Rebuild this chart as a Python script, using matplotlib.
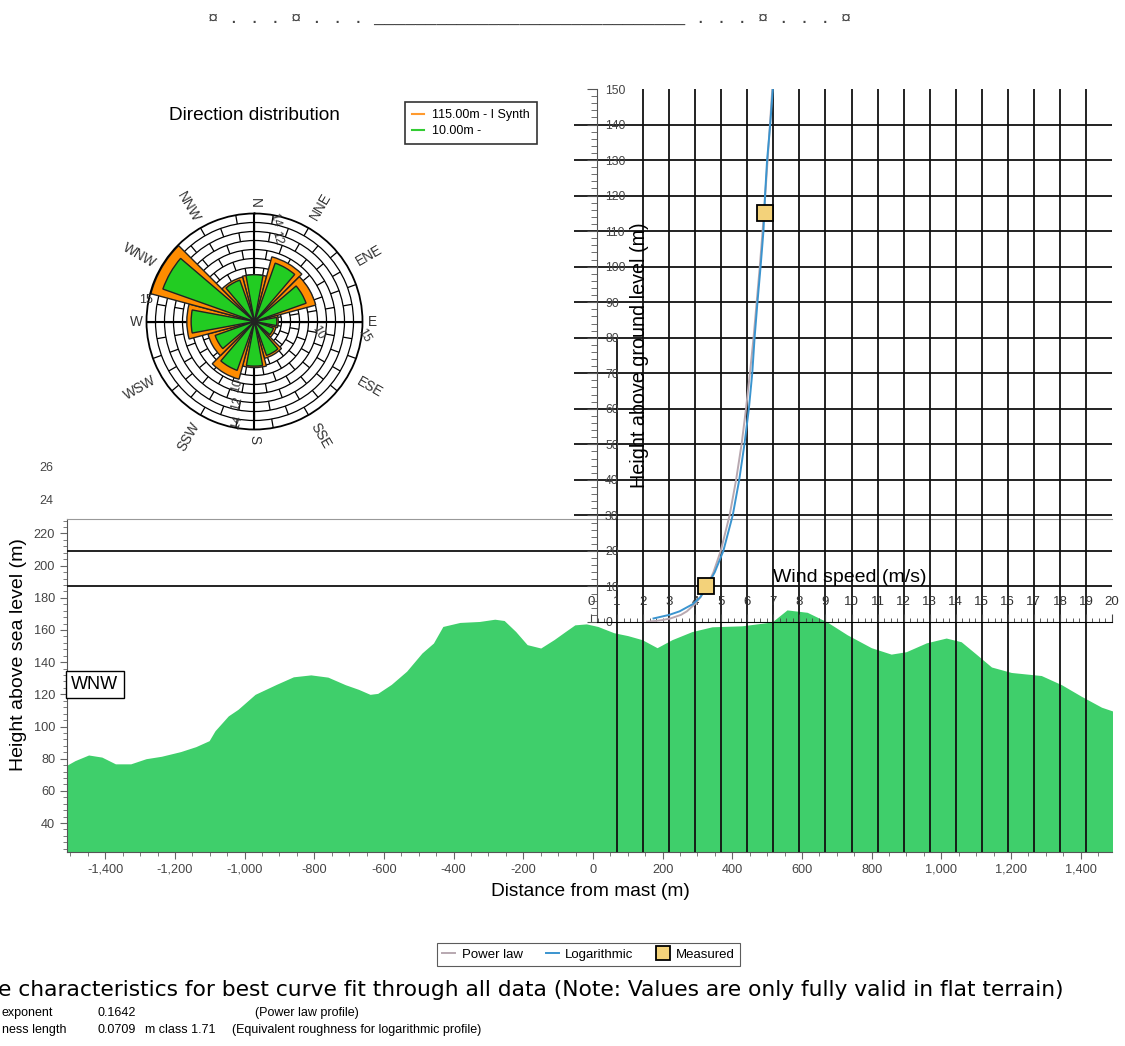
import matplotlib
matplotlib.use("Agg")
import matplotlib.pyplot as plt
import numpy as np
from matplotlib.lines import Line2D
from matplotlib.ticker import FuncFormatter, MultipleLocator

plt.rcParams["font.family"] = ["Liberation Sans", "DejaVu Sans"]

W, H = 1125, 1046

# direction distribution, 12 sectors
sectors = ["N", "NNE", "ENE", "E", "ESE", "SSE", "S", "SSW", "WSW", "W", "WNW", "NNW"]
rose_115m = [6.5, 9.3, 8.8, 3.3, 3.1, 5.3, 6.4, 8.3, 6.7, 9.4, 14.9, 6.4]
rose_10m = [6.5, 8.6, 7.6, 3.1, 2.8, 5.0, 6.2, 7.2, 5.8, 8.8, 13.5, 6.1]

# terrain section towards WNW
distance = [-1510, -1487, -1448, -1410, -1371, -1327, -1283, -1239, -1184, -1140,
            -1102, -1085, -1047, -1019, -970, -909, -860, -810, -761, -711,
            -673, -640, -618, -579, -535, -491, -458, -431, -382, -326,
            -282, -255, -222, -189, -150, -112, -79, -52, -19, 14,
            60, 100, 141, 184, 227, 284, 342, 428, 514, 557,
            615, 672, 730, 799, 856, 899, 957, 1014, 1057, 1100,
            1144, 1201, 1287, 1345, 1402, 1460, 1494]
elevation = [76.0, 78.8, 82.3, 81.0, 76.8, 76.8, 80.0, 81.5, 84.4, 87.5,
             91.2, 97.4, 106.6, 110.7, 120.0, 126.2, 130.9, 132.1, 130.7, 126.0,
             123.1, 120.0, 120.6, 126.2, 134.4, 145.7, 151.9, 162.2, 164.7, 165.3,
             166.7, 165.9, 159.1, 150.9, 148.8, 154.0, 159.1, 163.2, 163.8, 162.2,
             158.3, 156.5, 154.0, 149.0, 154.0, 159.0, 162.0, 162.6, 165.0, 172.5,
             171.0, 165.0, 157.0, 149.0, 145.0, 146.5, 152.0, 155.0, 152.7, 145.0,
             137.0, 133.6, 131.7, 126.0, 118.8, 112.0, 109.5]

# vertical wind profile
log_height = [1, 2, 3, 5, 7, 10, 14, 20, 30, 40, 50, 60, 70, 80, 90, 100, 110, 120, 130, 140, 150]
log_speed = [2.40, 3.00, 3.40, 3.90, 4.20, 4.45, 4.75, 5.08, 5.44, 5.69, 5.89, 6.06,
             6.19, 6.28, 6.39, 6.51, 6.62, 6.68, 6.76, 6.88, 6.98]
power_height = [0.1, 0.3, 0.5, 1, 2, 3, 5, 7, 10, 14, 20, 30, 40, 50, 60, 70, 80, 90,
                100, 115, 130, 150]
power_speed = [2.15, 2.50, 2.70, 3.05, 3.45, 3.68, 3.98, 4.20, 4.45, 4.70, 4.98, 5.32,
               5.57, 5.78, 5.95, 6.10, 6.24, 6.36, 6.48, 6.64, 6.78, 6.96]
measured_height = [10, 115]
measured_speed = [4.41, 6.68]


def fx(x):
    return x / W


def fy(y):
    return 1 - y / H


fig = plt.figure(figsize=(W / 100, H / 100), dpi=100)

# terrain section
ax_t = fig.add_axes([fx(67), fy(852), fx(1045), 333 / H])
ax_t.fill_between(distance, elevation, 0, color="#3fcf6b", lw=0)
ax_t.set_xlim(-1510, 1490)
ax_t.set_ylim(22, 229)
ax_t.set_xticks(range(-1400, 1401, 200))
ax_t.xaxis.set_minor_locator(MultipleLocator(50))
ax_t.set_yticks(range(40, 221, 20))
ax_t.yaxis.set_minor_locator(MultipleLocator(4))
ax_t.xaxis.set_major_formatter(FuncFormatter(lambda v, p: f"{v:,.0f}"))
ax_t.tick_params(which="major", length=5, color="#666", labelsize=9.2, labelcolor="#444")
ax_t.tick_params(which="minor", length=3, color="#666")
ax_t.spines["right"].set_visible(False)
ax_t.spines["top"].set_color("#999")
ax_t.spines["top"].set_linewidth(0.8)
for s in ("left", "bottom"):
    ax_t.spines[s].set_color("#555")
ax_t.set_xlabel("Distance from mast (m)", fontsize=13.8, va="center")
ax_t.xaxis.set_label_coords(0.5005, -0.12)
ax_t.set_ylabel("Height above sea level (m)", fontsize=14, va="center")
ax_t.yaxis.set_label_coords(-0.046, 0.592)
ax_t.text(0.004, 0.503, "WNW", transform=ax_t.transAxes, ha="left", va="center",
          fontsize=13, bbox=dict(boxstyle="square,pad=0.3", fc="white", ec="black", lw=1))
for lbl, y in (("26", 468), ("24", 501)):
    fig.text(fx(46), fy(y), lbl, ha="center", va="center", fontsize=9, color="#444")

# wind profile, drawn over the terrain
ax_p = fig.add_axes([fx(591), fy(622), fx(521), 533 / H])
ax_p.patch.set_alpha(0)
ax_p.set_xlim(0, 20)
ax_p.set_ylim(0, 150)
for s in ("top", "right"):
    ax_p.spines[s].set_visible(False)
ax_p.spines["left"].set_position(("data", 0.23))
ax_p.spines["left"].set_color("#555")
ax_p.spines["bottom"].set_bounds(0.23, 20)
ax_p.set_xticks(range(0, 21))
ax_p.xaxis.set_minor_locator(MultipleLocator(0.25))
ax_p.tick_params(axis="x", which="both", direction="in", pad=-19, labelsize=9.5,
                 labelcolor="#333", color="#444")
ax_p.tick_params(axis="x", which="major", length=6)
ax_p.tick_params(axis="x", which="minor", length=3)
ax_p.set_yticks(range(0, 151, 10))
ax_p.yaxis.set_minor_locator(MultipleLocator(2))
ax_p.tick_params(axis="y", which="major", direction="out", length=7, pad=-12.8,
                 labelsize=8.8, labelcolor="#444", color="#555")
ax_p.tick_params(axis="y", which="minor", direction="out", length=4, color="#555")
plt.setp(ax_p.get_yticklabels(), ha="left")

grid_kw = dict(color="#111", lw=1.3, clip_on=False, zorder=1)
for h in range(10, 141, 10):
    ax_p.hlines(h, -20.1 if h <= 20 else -0.65, 20, **grid_kw)
for v in range(1, 20):
    ax_p.vlines(v, -64.7, 80 if v == 1 else 150, **grid_kw)

pw_line, = ax_p.plot(power_speed, power_height, color="#b8a8b0", lw=1.4, zorder=3)
log_line, = ax_p.plot(log_speed, log_height, color="#3a94cf", lw=1.4, zorder=4)
meas, = ax_p.plot(measured_speed, measured_height, ls="none", marker="s", ms=11,
                  mfc="#f3d27a", mec="black", mew=1.3, zorder=5)
ax_p.set_xlabel("Wind speed (m/s)", fontsize=14, va="center")
ax_p.xaxis.set_label_coords(0.497, 0.0844)
ax_p.set_ylabel("Height above ground level (m)", fontsize=14.2, va="center")
ax_p.yaxis.set_label_coords(0.094, 0.5)

leg = fig.legend([pw_line, log_line, meas], ["Power law", "Logarithmic", "Measured"],
                 loc="upper left", bbox_to_anchor=(fx(437), fy(943)), borderaxespad=0,
                 ncol=3, fontsize=9.5, frameon=True, fancybox=False, edgecolor="#333",
                 handlelength=1.0, handletextpad=0.5, columnspacing=1.7,
                 borderpad=0.4, numpoints=1, markerscale=0.9)
leg.get_frame().set_linewidth(0.8)

# direction distribution rose
cx, cy, rad = 254.5, 321.5, 108
ax_r = fig.add_axes([fx(cx - rad), fy(cy + rad), fx(2 * rad), 2 * rad / H], projection="polar")
ax_r.set_theta_zero_location("N")
ax_r.set_theta_direction(-1)
ax_r.set_ylim(0, 15)
ax_r.set_xticks([])
ax_r.set_yticks(np.arange(1.25, 15, 1.25))
ax_r.set_yticklabels([])
ax_r.grid(color="black", lw=0.9)
ax_r.set_axisbelow(True)
ax_r.spines["polar"].set_linewidth(1.3)

# staggered radial ticks between the rings, plus the compass cross
ring_step = 1.25
for i in range(2, 12):
    offset = 10 if i % 2 else 0
    spokes = np.deg2rad(np.arange(0, 360, 20) + offset)
    ax_r.vlines(spokes, i * ring_step, (i + 1) * ring_step, color="black", lw=0.9, zorder=1)
for a in (0, 90, 180, 270):
    ax_r.plot([np.deg2rad(a)] * 2, [0, 15], color="black", lw=1.5, zorder=1.5)

theta = np.deg2rad(np.arange(0, 360, 30))
ax_r.bar(theta, rose_115m, width=np.deg2rad(30), color="#ff8c00", edgecolor="#222",
         lw=1, zorder=2)
ax_r.bar(theta, rose_10m, width=np.deg2rad(21), color="#22cc22", edgecolor="#222",
         lw=1, zorder=3)

for name, t in zip(sectors, np.arange(0, 360, 30)):
    rot = 90 - t if 0 < t <= 180 else 270 - (t if t else 360)
    r = 16.4 if len(name) == 1 else 18.4
    ax_r.text(np.deg2rad(t), r, name, rotation=rot, rotation_mode="anchor",
              ha="center", va="center", fontsize=9.8, color="#333", clip_on=False)

for lbl, t, r, rot in (("15", 281.3, 15.3, 0), ("10", 100.3, 8.96, -60),
                       ("15", 97.0, 15.4, -60), ("10", 195.4, 9.15, 75),
                       ("12", 192.1, 11.6, 75), ("14", 189.9, 14.2, 75),
                       ("14", 11.4, 14.4, -75), ("12", 15.0, 12.0, -75)):
    ax_r.text(np.deg2rad(t), r, lbl, rotation=rot, ha="center", va="center",
              fontsize=9, color="#333", clip_on=False, zorder=6)

fig.text(fx(254), fy(116), "Direction distribution", ha="center", va="center", fontsize=13.7)
rose_leg = fig.legend([Line2D([], [], color="#ff9a2e", lw=1.5),
                       Line2D([], [], color="#33cc33", lw=1.5)],
                      ["115.00m - I Synth", "10.00m -"],
                      loc="upper left", bbox_to_anchor=(fx(405), fy(102)), borderaxespad=0,
                      fontsize=9, frameon=True, fancybox=False, edgecolor="black",
                      handlelength=1.0, handletextpad=0.6, borderpad=0.55, labelspacing=0.35)
rose_leg.get_frame().set_linewidth(1.2)

# page header and fit summary
header = "¤ . . . ¤ . . . " + "_" * 30 + " . . . ¤ . . . ¤"
fig.text(fx(208), fy(18), header, family="Liberation Mono", fontsize=12.4,
         color="#444", va="center", ha="left")

fig.text(fx(-2), fy(990), "e characteristics for best curve fit through all data "
         "(Note: Values are only fully valid in flat terrain)", fontsize=15.7,
         family=["DejaVu Sans"], va="center")
small = dict(fontsize=9, va="center")
for x, y, s in ((2, 1013, "exponent"), (97, 1013, "0.1642"), (255, 1013, "(Power law profile)"),
                (2, 1030, "ness length"), (97, 1030, "0.0709"), (145, 1030, "m class 1.71"),
                (232, 1030, "(Equivalent roughness for logarithmic profile)")):
    fig.text(fx(x), fy(y), s, **small)

fig.savefig("out.png", dpi=100)
plt.close(fig)
